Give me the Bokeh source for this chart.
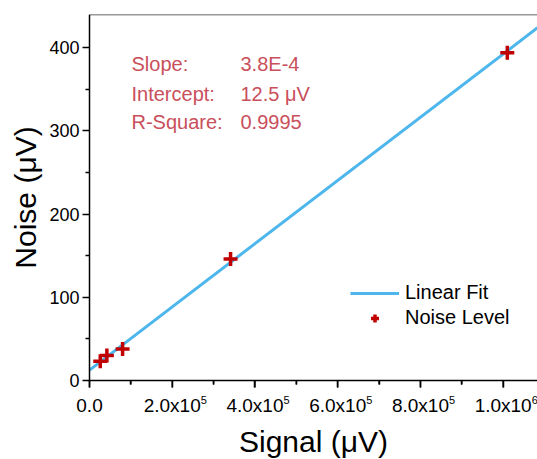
from bokeh.plotting import figure
from bokeh.models import (Range1d, FixedTicker, Label, Legend, LegendItem)
from bokeh.embed import file_html
from bokeh.resources import INLINE

# ---- data ----
signal = [26e3, 42e3, 80e3, 341e3, 1010e3]
noise = [23, 30, 38, 146, 394]
slope = 3.8e-4
intercept = 12.5
x_ticks = [0, 2e5, 4e5, 6e5, 8e5, 1e6]
x_tick_base = ["0.0", "2.0x10", "4.0x10", "6.0x10", "8.0x10", "1.0x10"]
x_tick_exp = ["", "5", "5", "5", "5", "6"]
x_minor = [1e5, 3e5, 5e5, 7e5, 9e5]
y_ticks = [0, 100, 200, 300, 400]
y_minor = [50, 150, 250, 350, 450]
stats_names = ["Slope:", "Intercept:", "R-Square:"]
stats_values = ["3.8E-4", "12.5 \u03bcV", "0.9995"]

x_end = 1.083e6
y_end = 440

FONT = "Liberation Sans"
TXT_RED = "#C94F5B"
BLUE = "#4DB6EC"
DARK_RED = "#C00000"

W, H = 537, 459
LEFT, TOP, BOT = 89, 14, 79   # pixel room left of / above / below the axes box
# the frame covers the whole page below TOP; axes sit at x=0 and y=0
x_start = -x_end * LEFT / (W - LEFT)
y_start = -y_end * BOT / (H - TOP - BOT)
y_per_px = y_end / (H - TOP - BOT)

p = figure(width=W, height=H, output_backend="svg", toolbar_location=None,
           x_range=Range1d(x_start, x_end), y_range=Range1d(y_start, y_end),
           min_border_left=0, min_border_right=0, min_border_top=TOP,
           min_border_bottom=0)
p.grid.visible = False
p.outline_line_color = None
p.background_fill_color = "white"
p.border_fill_color = "white"

fit_x = [0, x_end]
fit_y = [slope * v + intercept for v in fit_x]
r_line = p.line(fit_x, fit_y, line_color=BLUE, line_width=3)
r_pts = p.scatter(signal, noise, marker="cross", size=14, line_width=3.5,
                  line_color=DARK_RED)

# top border of the axes box
p.segment(x0=[0], y0=[y_end], x1=[x_end], y1=[y_end], line_color="#333333", line_width=1.5)

# outward tick marks of the x axis (7 px major, 4 px minor)
p.segment(x0=x_ticks, y0=[0] * len(x_ticks), x1=x_ticks,
          y1=[-7 * y_per_px] * len(x_ticks), line_color="black", line_width=1.5)
p.segment(x0=x_minor, y0=[0] * len(x_minor), x1=x_minor,
          y1=[-4 * y_per_px] * len(x_minor), line_color="black", line_width=1.5)

# axes
xa = p.xaxis[0]
xa.fixed_location = 0
xa.bounds = (0, x_end)
xa.ticker = FixedTicker(ticks=x_ticks, minor_ticks=x_minor)
xa.major_label_overrides = {t: l for t, l in zip(x_ticks, x_tick_base)}
ya = p.yaxis[0]
ya.fixed_location = 0
ya.bounds = (0, y_end)
ya.ticker = FixedTicker(ticks=y_ticks, minor_ticks=y_minor)

for ax in (xa, ya):
    ax.axis_line_color = "black"
    ax.axis_line_width = 1.5
    ax.major_tick_line_color = "black"
    ax.major_tick_line_width = 1.5
    ax.minor_tick_line_color = "black"
    ax.minor_tick_line_width = 1.5
    ax.major_tick_out = 7
    ax.major_tick_in = 0
    ax.minor_tick_out = 4
    ax.minor_tick_in = 0
    ax.major_label_text_font = FONT
    ax.major_label_text_font_size = "19px"
    ax.major_label_text_color = "black"
    ax.axis_label_text_font = FONT
    ax.axis_label_text_font_size = "30px"
    ax.axis_label_text_font_style = "normal"
    ax.axis_label_text_color = "black"

ya.major_label_text_font_size = "18px"
xa.axis_label = "Signal (\u03bcV)"
ya.axis_label = "Noise (\u03bcV)"
xa.major_label_standoff = 7
xa.axis_label_standoff = 6
ya.major_label_standoff = 3
ya.axis_label_standoff = 4

# superscript exponents of x tick labels
for t, e in zip(x_ticks, x_tick_exp):
    if e:
        p.add_layout(Label(x=t, y=0, x_offset=28.5, y_offset=-15, text=e,
                           text_font=FONT, text_font_size="11px", text_color="black",
                           text_baseline="top", text_align="left"))

# fit statistics text (screen offsets from the axes origin)
row_y = [316.5, 287, 259]
for name, val, yy in zip(stats_names, stats_values, row_y):
    for txt, xx in ((name, 42), (val, 151)):
        p.add_layout(Label(x=xx + LEFT, y=yy + BOT, x_units="screen", y_units="screen",
                           text=txt, text_font=FONT, text_font_size="20px",
                           text_color=TXT_RED, text_baseline="middle", text_align="left"))

legend = Legend(items=[LegendItem(label="Linear Fit", renderers=[r_line]),
                       LegendItem(label="Noise Level", renderers=[r_pts])],
                location=(261 + LEFT, 51 + BOT), padding=0, margin=0, spacing=2,
                glyph_width=49, glyph_height=20, label_standoff=6,
                label_text_font=FONT, label_text_font_size="20px",
                label_text_color="black",
                border_line_color=None, background_fill_alpha=0)
p.add_layout(legend)

open("out.html", "w").write(file_html(p, INLINE))
